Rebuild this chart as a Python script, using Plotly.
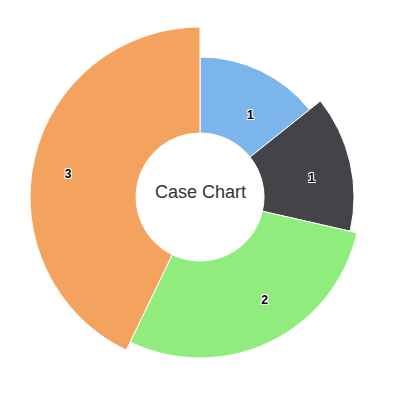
import math
import plotly.graph_objects as go

categories = ["A", "B", "C", "D"]
values = [1, 1, 2, 3]
outer_radius = [140, 154, 161, 170]
colors = ["#7cb5ec", "#434348", "#90ed7d", "#f3a35e"]
hole = 64
title_text = "Case Chart"

W, H = 387, 386  # page has an 8px body margin
cx, cy, R = 192, 189, 170

total = sum(values)
widths = [v / total * 360 for v in values]
thetas = []
acc = 0
for w in widths:
    thetas.append(acc + w / 2)
    acc += w

fig = go.Figure()
fig.add_trace(go.Barpolar(
    r=[o - hole for o in outer_radius],
    base=[hole] * len(values),
    theta=thetas,
    width=widths,
    marker=dict(color=colors, line=dict(color="white", width=1)),
    hoverinfo="skip",
))
label_r = [1.28 * o - 84 for o in outer_radius]
label_theta = [t + 8 * math.sin(math.radians(2 * t)) for t in thetas]
fig.add_trace(go.Scatterpolar(
    r=label_r,
    theta=label_theta,
    mode="text",
    text=[str(v) for v in values],
    textfont=dict(family="Liberation Sans, Arial", size=12, color="black",
                  weight="bold",
                  shadow="1px 1px 0px white, -1px -1px 0px white, 1px -1px 0px white, -1px 1px 0px white"),
    hoverinfo="skip",
))

fig.update_layout(
    width=W, height=H,
    margin=dict(l=0, r=0, t=0, b=0),
    paper_bgcolor="white",
    showlegend=False,
    polar=dict(
        domain=dict(x=[(cx - R) / W, (cx + R) / W],
                    y=[(H - cy - R) / H, (H - cy + R) / H]),
        bgcolor="white",
        radialaxis=dict(range=[0, R], visible=False),
        angularaxis=dict(rotation=90, direction="clockwise", visible=False),
        bargap=0,
    ),
    annotations=[dict(
        text=title_text, x=cx / W, y=1 - (cy - 5) / H, xref="paper", yref="paper",
        showarrow=False, font=dict(family="Liberation Sans, Arial", size=18, color="#333333"),
    )],
)

fig.write_html("out.html")
